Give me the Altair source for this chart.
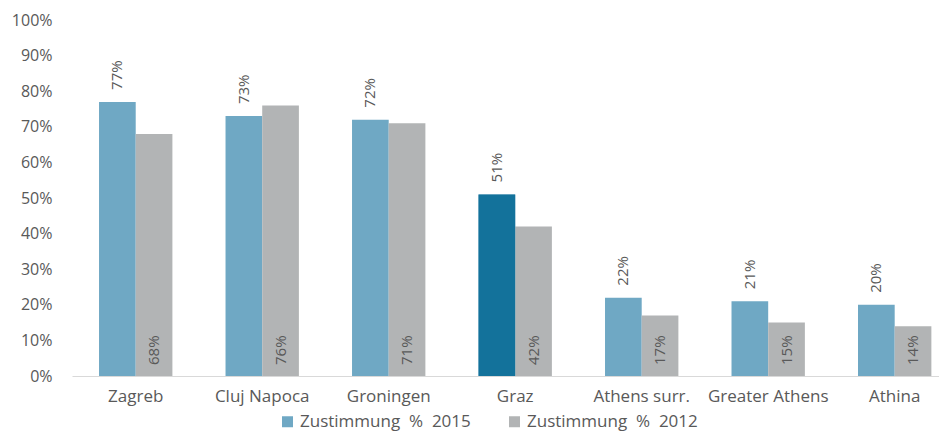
import altair as alt
import pandas as pd

cities = ["Zagreb", "Cluj Napoca", "Groningen", "Graz", "Athens surr.", "Greater Athens", "Athina"]
v2015 = [77, 73, 72, 51, 22, 21, 20]
v2012 = [68, 76, 71, 42, 17, 15, 14]
series = ["Zustimmung\u00a0\u00a0%\u00a0\u00a02015", "Zustimmung\u00a0\u00a0%\u00a0\u00a02012"]
highlight_city = "Graz"
y_ticks = [0, 0.1, 0.2, 0.3, 0.4, 0.5, 0.6, 0.7, 0.8, 0.9, 1.0]

rows = []
for c, a, b in zip(cities, v2015, v2012):
    rows.append({"city": c, "series": series[0], "value": a / 100, "label": f"{a}%"})
    rows.append({"city": c, "series": series[1], "value": b / 100, "label": f"{b}%"})
df = pd.DataFrame(rows)

FONT = "Open Sans"
TXT = "#595959"
BLUE = "#6FA8C4"
DARK = "#13729B"
GRAY = "#B2B4B5"

x_enc = alt.X("city:N", sort=cities, title=None,
              scale=alt.Scale(paddingInner=0.42, paddingOuter=0.137, align=0.78, round=False),
              axis=alt.Axis(labelAngle=0, ticks=False, tickSize=0, domainColor="#D9D9D9",
                            labelPadding=12, labelFontSize=17, labelColor=TXT, labelFont=FONT))
xoff = alt.XOffset("series:N", sort=series,
                   scale=alt.Scale(domain=series, paddingInner=0, paddingOuter=0, round=False))
y_axis = alt.Axis(values=y_ticks, format=".0%", grid=False,
                  ticks=False, tickSize=0, domain=False, labelPadding=20,
                  labelOverlap=False, labelFontSize=16, labelColor=TXT, labelFont=FONT)
y_scale = alt.Scale(domain=[0, 1])
y_enc = alt.Y("value:Q", title=None, scale=y_scale, axis=y_axis)

base = alt.Chart(df)

bars = base.mark_bar().encode(
    x=x_enc, xOffset=xoff, y=y_enc,
    color=alt.Color("series:N", sort=series,
                    scale=alt.Scale(domain=series, range=[BLUE, GRAY]),
                    legend=alt.Legend(title=None, orient="none", direction="horizontal",
                                      legendX=207, legendY=393, symbolType="square",
                                      symbolSize=121, symbolStrokeWidth=0, labelLimit=400,
                                      labelFontSize=17, labelColor=TXT, labelFont=FONT,
                                      columnPadding=35, labelOffset=4)),
)

hl = base.transform_filter(
    (alt.datum.city == highlight_city) & (alt.datum.series == series[0])
).mark_bar(color=DARK).encode(x=x_enc, xOffset=xoff, y=y_enc)

lab15 = base.transform_filter(alt.datum.series == series[0]).mark_text(
    angle=270, align="left", baseline="middle", dx=12, fontSize=15, color=TXT, font=FONT
).encode(x=x_enc, xOffset=xoff, y=y_enc, text="label:N")

lab12 = base.transform_filter(alt.datum.series == series[1]).mark_text(
    angle=270, align="left", baseline="middle", dx=11, fontSize=15, color=TXT, font=FONT
).encode(x=x_enc, xOffset=xoff, y=alt.Y(datum=0, title=None, scale=y_scale, axis=y_axis),
         text="label:N")

chart = alt.layer(bars, hl, lab15, lab12).properties(
    width=867, height=356,
    autosize=alt.AutoSizeParams(type="none"),
    padding={"left": 64, "top": 12, "right": 0, "bottom": 57},
).configure(font=FONT).configure_view(stroke=None).configure_axisY(labelOverlap=False)

chart.save("out.html", embed_options={"renderer": "svg", "actions": False})
